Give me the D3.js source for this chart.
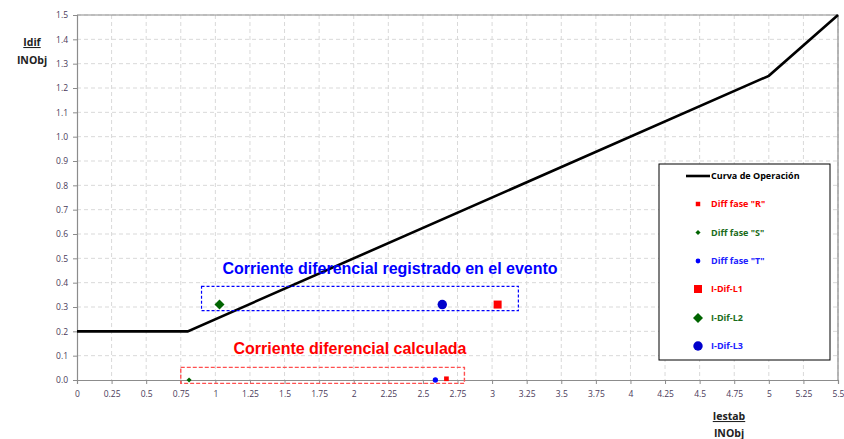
<!DOCTYPE html>
<html><head><meta charset="utf-8">
<script src="https://cdn.jsdelivr.net/npm/d3@7"></script>
<style>body{margin:0;background:#fff}svg{display:block}</style>
</head><body>
<svg id="c" width="844" height="439"></svg>
<script>
const xTicks = [0,0.25,0.5,0.75,1,1.25,1.5,1.75,2,2.25,2.5,2.75,3,3.25,3.5,3.75,4,4.25,4.5,4.75,5,5.25,5.5];
const yTicks = [0,0.1,0.2,0.3,0.4,0.5,0.6,0.7,0.8,0.9,1.0,1.1,1.2,1.3,1.4,1.5];
const curveX = [0, 0.8, 5, 5.5];
const curveY = [0.2, 0.2, 1.25, 1.5];
// calculated (small markers)
const diffR = [[2.67, 0.005]];
const diffS = [[0.81, 0.0]];
const diffT = [[2.59, 0.0]];
// event recorded (large markers)
const idifL1 = [[3.04, 0.31]];
const idifL2 = [[1.03, 0.31]];
const idifL3 = [[2.64, 0.31]];
const boxEvent = {x0:0.9, x1:3.19, y0:0.285, y1:0.385};
const boxCalc = {x0:0.75, x1:2.8, y0:-0.014, y1:0.052};

const svg = d3.select('#c');
const L=77, R=838, T=15, B=380;
const x = d3.scaleLinear().domain([0,5.5]).range([L,R]);
const y = d3.scaleLinear().domain([0,1.5]).range([B,T]);
const font = "'Open Sans', 'DejaVu Sans', sans-serif";

// grid
const g = svg.append('g');
g.selectAll('.hg').data(yTicks.slice(1)).enter().append('line')
  .attr('x1',L).attr('x2',R).attr('y1',d=>y(d)).attr('y2',d=>y(d))
  .attr('stroke','#d9d9d9').attr('stroke-dasharray','4,3');
g.selectAll('.vg').data(xTicks.slice(1)).enter().append('line')
  .attr('y1',T).attr('y2',B).attr('x1',d=>x(d)).attr('x2',d=>x(d))
  .attr('stroke','#d9d9d9').attr('stroke-dasharray','4,3');
// border top/right
svg.append('path').attr('d',`M${L},${T}H${R}V${B}`).attr('fill','none').attr('stroke','#8c8c8c').attr('stroke-width',1.2);

// axes
const xa = svg.append('g').attr('transform',`translate(0,${B})`)
  .call(d3.axisBottom(x).tickValues(xTicks).tickSize(4).tickPadding(7).tickFormat(d=>String(d)));
const ya = svg.append('g').attr('transform',`translate(${L},0)`)
  .call(d3.axisLeft(y).tickValues(yTicks).tickSize(4).tickPadding(5).tickFormat(d3.format('.1f')));
[xa,ya].forEach(a=>{
  a.select('.domain').attr('stroke','#8c8c8c').attr('stroke-width',1.2);
  a.selectAll('.tick line').attr('stroke','#8c8c8c');
  a.selectAll('text').attr('fill','#4a3a5a').style('font-family',font).style('font-size','8.5px');
});

// curve
svg.append('path').datum(curveX.map((d,i)=>[d,curveY[i]]))
  .attr('d',d3.line().x(d=>x(d[0])).y(d=>y(d[1])))
  .attr('fill','none').attr('stroke','#000').attr('stroke-width',2.6);

// boxes
function box(b,col,dash,w){
  svg.append('rect').attr('x',x(b.x0)).attr('y',y(b.y1))
    .attr('width',x(b.x1)-x(b.x0)).attr('height',y(b.y0)-y(b.y1))
    .attr('fill','none').attr('stroke',col).attr('stroke-width',w).attr('stroke-dasharray',dash);
}
box(boxEvent,'#0000ff','3,2',1.2);
box(boxCalc,'#ff5050','4,2',1.4);

// markers
function sym(type,size){
  if(type==='diamond') return d3.symbol().type(d3.symbolSquare).size(size)();
  return d3.symbol().type(type).size(size)();
}
function rot(type){ return type==='diamond' ? ' rotate(45)' : ''; }
function pts(data,type,size,col){
  data.forEach(d=>{
    svg.append('path').attr('transform',`translate(${x(d[0])},${y(d[1])})${rot(type)}`)
      .attr('d',sym(type,size)).attr('fill',col);
  });
}
pts(diffR, d3.symbolSquare, 22, '#ff0000');
pts(diffS, 'diamond', 13, '#006400');
pts(diffT, d3.symbolCircle, 22, '#0000ff');
pts(idifL1, d3.symbolSquare, 64, '#ff0000');
pts(idifL2, 'diamond', 50, '#006400');
pts(idifL3, d3.symbolCircle, 70, '#0000cc');

// annotations
svg.append('text').attr('x',390).attr('y',274).attr('text-anchor','middle')
  .style('font-family',"'Liberation Sans', Arial, sans-serif").style('font-weight','bold').style('font-size','16px')
  .attr('fill','#0000ff').text('Corriente diferencial registrado en el evento');
svg.append('text').attr('x',350).attr('y',354).attr('text-anchor','middle')
  .style('font-family',"'Liberation Sans', Arial, sans-serif").style('font-weight','bold').style('font-size','16px')
  .attr('fill','#ff0000').text('Corriente diferencial calculada');

// axis titles
function title(cx, y1, y2, name){
  svg.append('text').attr('x',cx).attr('y',y1).attr('text-anchor','middle')
    .style('font-family',font).style('font-weight','bold').style('font-size','10.5px')
    .style('text-decoration','underline').attr('fill','#222').text(name);
  svg.append('text').attr('x',cx).attr('y',y2).attr('text-anchor','middle')
    .style('font-family',font).style('font-weight','bold').style('font-size','10.5px')
    .attr('fill','#222').text('INObj');
}
title(32, 46, 64, 'Idif');
title(729, 420, 437, 'Iestab');

// legend
const lg = svg.append('g');
lg.append('rect').attr('x',659).attr('y',164).attr('width',171).attr('height',196)
  .attr('fill','#fff').attr('stroke','#000').attr('stroke-width',1);
const items = [
  {name:'Curva de Operación', col:'#000', type:'line'},
  {name:'Diff fase "R"', col:'#ff0000', sym:d3.symbolSquare, size:20},
  {name:'Diff fase "S"', col:'#006400', sym:'diamond', size:13, tcol:'#1a6b1a'},
  {name:'Diff fase "T"', col:'#0000ff', sym:d3.symbolCircle, size:18, tcol:'#2020ff'},
  {name:'I-Dif-L1', col:'#ff0000', sym:d3.symbolSquare, size:64},
  {name:'I-Dif-L2', col:'#006400', sym:'diamond', size:50, tcol:'#1a6b1a'},
  {name:'I-Dif-L3', col:'#0000cc', sym:d3.symbolCircle, size:70, tcol:'#2020ff'}
];
const rows = [176, 204, 232.5, 261, 289, 318, 346];
items.forEach((it,i)=>{
  const yy = rows[i];
  if(it.type==='line'){
    lg.append('line').attr('x1',686).attr('x2',710).attr('y1',yy).attr('y2',yy).attr('stroke','#000').attr('stroke-width',2.6);
  } else {
    lg.append('path').attr('transform',`translate(698,${yy})${rot(it.sym)}`).attr('d',sym(it.sym,it.size)).attr('fill',it.col);
  }
  lg.append('text').attr('x',711).attr('y',yy+3.3)
    .style('font-family',font).style('font-weight','bold').style('font-size','9px')
    .attr('fill',it.tcol||it.col).text(it.name);
});
</script>
</body></html>
